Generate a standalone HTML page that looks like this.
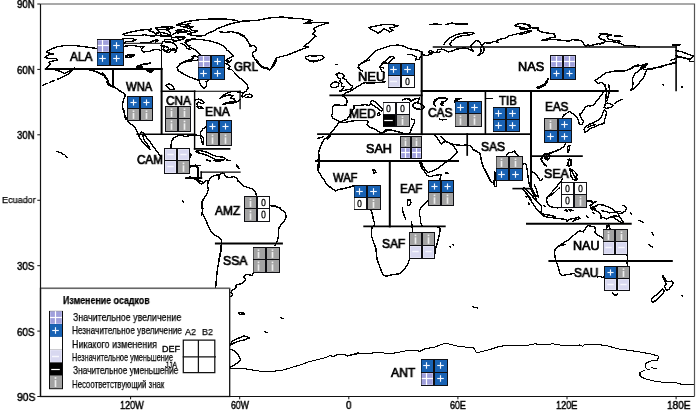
<!DOCTYPE html>
<html><head><meta charset="utf-8"><title>Изменение осадков</title>
<style>
html,body{margin:0;padding:0;background:#fff;}
body{width:700px;height:414px;position:relative;overflow:hidden;font-family:"Liberation Sans",sans-serif;color:#111;}
#map{position:absolute;left:0;top:0;width:700px;height:414px;}
#coast path{shape-rendering:crispEdges;fill:none;stroke:#000;stroke-width:1.4;stroke-linejoin:round;stroke-linecap:round;}
#frame path,#legbox path{fill:none;}
#rlines line{stroke:#000;stroke-width:2;stroke-linecap:square;}
.ax{position:absolute;white-space:nowrap;transform-origin:0 0;will-change:transform;-webkit-text-stroke:.5px #000;color:#000;}
.rl{position:absolute;white-space:nowrap;transform-origin:0 0;will-change:transform;-webkit-text-stroke:.72px #000;color:#000;}
.lt{position:absolute;white-space:nowrap;transform-origin:0 0;color:#000;will-change:transform;-webkit-text-stroke:.25px #000;}
</style></head>
<body>
<svg id="map" viewBox="0 0 700 414" width="700" height="414">
<g id="coast">
<path d="M97.2,48.6 L87.8,47.1 L76.2,45.7 L63.9,45.7 L57.4,46.7 L53.8,48.1 L47.2,51.0 L46.5,52.5 L50.1,53.2 L53.8,53.9 L49.4,54.6 L46.5,56.1 L45.1,57.5 L48.7,58.3 L55.9,58.7 L57.4,60.1 L52.3,61.2 L48.7,62.2 L50.9,64.1 L48.0,66.2 L46.5,68.0 L45.8,69.1 L50.9,69.1 L55.9,69.9 L61.7,72.0 L64.6,73.5 L69.0,71.3 L72.6,68.8"/>
<path d="M74.8,68.0 L71.2,71.3 L69.0,73.5 L63.9,76.4 L57.4,79.3"/>
<path d="M54.5,80.4 L50.1,82.2"/>
<path d="M47.2,83.3 L42.9,85.1"/>
<path d="M77.7,69.1 L87.8,69.4 L95.8,71.3 L100.9,73.5 L104.5,76.4 L107.4,80.0 L109.6,84.3 L112.5,86.5 L115.4,88.0"/>
<path d="M123.0,34.2 L130.1,32.1 L140.3,30.1 L151.4,29.1 L148.4,30.6 L153.5,32.1 L156.5,34.2 L154.5,36.2 L149.4,35.7 L144.3,34.7 L140.3,35.7 L135.2,35.2 L130.1,35.7 L125.1,35.2 L123.0,34.2"/>
<path d="M155.5,28.1 L162.6,27.1 L168.7,28.1 L165.7,29.6 L168.7,31.1 L170.7,33.2 L169.7,35.7 L165.7,36.2 L161.6,35.2 L159.6,32.1 L157.5,30.1 L155.5,28.1"/>
<path d="M123.0,38.2 L132.2,38.7 L136.2,39.8 L132.2,41.3 L126.1,41.8 L124.1,43.8"/>
<path d="M140.3,42.8 L150.4,42.3 L153.5,40.8 L156.5,39.8 L158.6,40.3 L155.5,42.3"/>
<path d="M124.1,46.3 L130.1,45.5 L135.2,45.8 L140.3,46.9 L144.3,46.3 L141.3,49.4 L143.3,51.9 L150.4,51.4 L152.5,49.9 L158.6,49.4 L160.6,50.4"/>
<path d="M126.1,55.5 L130.1,54.5 L134.2,55.0 L131.2,57.0 L126.1,57.5 L126.1,55.5 L130.1,56.0 L134.2,55.0"/>
<path d="M161.1,45.8 L165.7,46.3 L168.7,47.9 L167.7,50.4 L164.6,51.4 L168.7,52.4 L170.7,50.4 L172.8,48.4 L175.8,49.4 L176.8,51.4 L174.8,52.4"/>
<path d="M164.6,39.8 L170.7,39.2 L174.8,40.8 L172.8,42.3 L167.7,42.8 L164.6,41.3 L164.6,39.8"/>
<path d="M172.8,34.2 L176.8,32.1 L180.9,31.1 L185.9,32.1 L190.0,31.1"/>
<path d="M176.8,37.2 L180.9,36.2 L184.9,37.2 L182.9,39.2 L178.8,39.8 L176.8,37.2"/>
<path d="M176.8,25.0 L180.9,24.0 L185.9,24.5 L190.0,23.5"/>
<path d="M180.9,26.6 L184.9,27.1 L188.0,28.1"/>
<path d="M190.0,40.3 L187.0,41.3 L185.9,43.3 L188.0,45.3 L190.0,45.8"/>
<path d="M180.9,43.3 L184.9,45.3 L187.0,48.4 L190.0,49.4"/>
<path d="M125.2,56.2 L131.7,54.7 L134.6,55.7 L128.8,57.6 L125.2,56.2"/>
<path d="M136.8,67.0 L143.3,64.1 L150.6,63.0"/>
<path d="M147.0,70.7 L153.5,69.9 L151.3,72.1 L147.0,70.7"/>
<path d="M177.5,24.5 L186.2,21.6 L197.8,19.9 L210.9,19.0 L225.4,19.0 L237.0,20.4 L238.7,22.3 L234.1,23.0 L228.3,24.5 L222.5,26.7 L216.7,28.8 L213.8,31.0 L208.0,33.2 L205.1,35.4 L199.3,36.1 L192.0,35.4 L187.7,33.9 L193.5,32.5 L197.8,31.0 L192.0,30.3 L189.1,28.1 L193.5,26.7 L187.7,25.9 L181.9,26.7 L177.5,24.5"/>
<path d="M238.7,22.3 L242.8,20.9 L250.0,20.4"/>
<path d="M219.6,31.7 L225.4,32.5 L231.2,31.7 L238.4,33.2 L244.2,36.1 L247.1,40.4 L250.0,44.8"/>
<path d="M200.7,55.7 L199.3,53.5 L196.4,50.6 L192.0,48.4 L187.7,45.5 L184.8,42.6 L186.2,39.7 L193.5,39.0 L202.2,39.7 L210.9,41.2 L218.1,43.3 L223.9,46.2 L226.8,49.9 L231.2,53.5 L233.3,56.4 L229.7,57.8 L226.8,59.3 L229.0,62.2 L226.1,63.6"/>
<path d="M155.8,28.1 L161.6,27.1 L168.8,26.7 L174.6,27.4 L170.3,28.8 L164.5,29.6 L158.7,29.6 L155.8,28.1"/>
<path d="M176.1,30.3 L183.3,29.6 L187.7,31.0 L183.3,32.5 L177.5,32.9 L176.1,30.3"/>
<path d="M155.8,33.2 L161.6,32.5 L167.4,33.9 L171.7,36.1 L167.4,36.8 L161.6,36.1 L157.2,35.4 L155.8,33.2"/>
<path d="M171.7,37.5 L179.0,36.8 L183.3,38.3 L180.4,40.4 L174.6,41.2 L171.7,39.0 L171.7,37.5"/>
<path d="M163.0,41.2 L170.3,41.9 L174.6,44.1 L177.5,47.7 L174.6,50.6 L170.3,49.1 L167.4,50.6 L163.0,49.9 L164.5,47.0 L161.6,44.8 L163.0,41.2"/>
<path d="M178.3,65.8 L183.3,62.2 L189.1,60.0 L193.5,58.6 L192.0,56.4 L194.9,55.7 L198.6,57.8"/>
<path d="M240.0,21.3 L248.7,20.9 L257.4,20.4 L269.0,18.0 L282.0,17.0 L289.3,18.0 L300.9,18.7 L312.5,20.4 L306.7,22.3 L303.8,23.8 L309.6,23.0 L316.8,22.3 L328.4,23.0 L322.6,24.5 L316.8,26.7 L313.9,28.8 L315.4,31.7 L312.5,33.9 L316.1,36.1 L312.5,39.0 L309.6,41.9 L306.7,44.1 L303.8,46.2 L308.1,47.0 L302.3,49.1 L295.1,52.0 L287.8,54.9 L282.0,56.4 L276.2,57.8 L274.8,60.7 L273.3,64.3 L271.2,68.0 L269.7,69.4 L266.1,68.7 L261.7,67.2 L258.8,64.3 L255.9,60.7 L253.0,56.4 L252.3,52.8 L255.9,50.6 L256.7,47.7 L253.8,45.5 L250.1,46.2 L248.7,43.3 L247.2,39.7 L244.3,36.8 L240.0,34.6"/>
<path d="M305.2,57.1 L309.6,55.7 L315.4,56.1 L321.2,55.2 L324.1,57.1 L322.6,59.3 L318.3,60.7 L313.9,61.9 L309.6,60.7 L306.7,59.3 L305.2,57.1"/>
<path d="M335.7,64.2 L337.1,64.5"/>
<path d="M369.0,27.4 L376.2,25.9 L383.5,24.5 L390.7,24.5 L398.7,25.7 L393.6,27.4 L389.3,28.1 L392.9,30.3 L389.3,32.0 L386.4,29.6 L383.5,28.8 L380.6,31.7 L377.7,33.2 L374.8,31.0 L371.2,29.6 L369.0,27.4"/>
<path d="M430.6,24.5 L435.7,23.8 L440.0,24.5"/>
<path d="M358.1,68.0 L358.8,65.1 L363.2,62.2 L367.5,59.3 L371.2,55.7 L374.1,52.0 L377.7,49.9 L383.5,48.0 L390.7,45.5 L398.0,45.1 L403.8,46.2 L408.1,48.4 L412.5,49.4 L418.3,50.3 L421.9,52.0 L423.3,54.9 L427.0,55.7 L432.8,53.5 L428.4,52.0 L430.6,50.6 L435.7,52.8 L440.0,52.0"/>
<path d="M408.1,54.2 L412.5,54.9 L416.8,57.1 L415.4,60.0 L419.0,59.3 L421.2,56.4"/>
<path d="M388.6,62.9 L390.7,60.7 L394.3,57.8 L392.9,56.4 L389.3,57.1 L386.4,60.0 L383.5,62.2 L381.3,64.3 L380.6,67.2 L383.5,68.0"/>
<path d="M430.0,24.5 L435.8,24.2 L440.9,24.8"/>
<path d="M445.9,24.5 L451.7,23.0 L456.1,24.2 L460.4,23.8 L467.7,23.8"/>
<path d="M443.8,44.8 L445.9,41.2 L450.3,37.5 L456.1,34.6 L463.3,33.2 L472.0,32.5 L474.2,33.5 L469.1,34.9 L461.9,35.8 L456.1,37.5 L451.7,41.2 L449.6,44.1 L451.7,45.5"/>
<path d="M430.0,53.5 L432.9,52.0 L436.5,52.8 L438.0,49.9 L441.6,49.1 L444.5,49.9 L448.8,52.0 L453.2,50.6 L456.8,49.1 L459.0,48.8 L463.3,48.0 L467.7,48.4 L472.0,50.6 L473.5,51.3 L471.3,48.4 L470.6,45.5 L473.5,42.6 L476.4,40.7 L479.3,41.2 L480.7,44.1 L482.9,46.2 L484.3,49.1 L483.6,52.0 L480.7,54.2 L477.8,55.7 L480.0,53.5 L481.4,51.3 L480.7,48.4 L482.2,44.8 L485.1,42.6 L489.4,43.3 L493.8,41.2 L498.1,42.6 L496.7,40.4 L501.0,39.0 L505.4,38.3 L508.3,36.1 L514.1,34.6 L519.9,33.2 L525.7,31.7 L530.0,30.3"/>
<path d="M514.8,25.2 L519.9,23.3 L525.7,24.2 L530.0,25.2"/>
<path d="M515.5,25.9 L521.3,27.4 L527.1,28.6 L530.0,28.1"/>
<path d="M520.0,23.8 L524.3,23.3 L528.7,25.9 L533.0,28.1 L538.8,28.1 L537.4,30.3 L543.2,32.5 L549.0,33.2 L554.1,33.9 L555.5,36.8 L549.0,38.3 L541.7,40.4 L549.0,39.7 L556.2,39.7 L563.5,40.4 L569.3,41.2 L572.2,39.7 L578.0,40.1 L582.3,41.2 L583.8,44.1 L585.9,46.2 L588.1,44.1 L589.6,45.9 L593.9,44.8 L598.3,43.6 L603.3,43.0 L605.5,41.2 L601.2,39.0 L598.3,36.8 L600.4,34.6 L605.5,33.9 L611.3,34.6 L607.0,36.8 L608.4,39.0 L614.2,40.4 L620.0,41.2"/>
<path d="M520.0,28.8 L525.8,29.6 L531.6,31.0 L525.8,33.2 L520.0,34.6"/>
<path d="M614.2,36.1 L620.0,35.8"/>
<path d="M600.0,33.9 L605.8,34.6 L611.6,35.4"/>
<path d="M614.5,36.1 L622.5,36.8"/>
<path d="M600.0,39.0 L605.8,40.4 L602.9,43.3 L600.0,44.1"/>
<path d="M605.8,41.2 L614.5,41.9 L620.3,43.3 L624.6,45.5 L633.3,45.5 L639.1,47.0"/>
<path d="M672.5,44.8 L680.4,44.8"/>
<path d="M676.1,50.6 L682.6,52.0 L689.9,54.9 L693.5,56.4 L689.9,60.0 L684.1,57.8 L678.3,56.4 L676.1,55.7"/>
<path d="M689.9,61.4 L694.2,61.4"/>
<path d="M629.0,69.4 L633.3,66.5 L637.7,65.1 L643.5,65.8 L640.6,68.0 L644.9,67.2 L647.1,64.3 L643.5,65.8"/>
<path d="M643.5,69.4 L650.7,69.4 L658.0,67.2 L665.2,65.1 L672.5,63.6 L676.1,62.9"/>
<path d="M671.0,60.0 L676.1,58.6"/>
<path d="M90.0,70.1 L95.8,71.6 L100.1,73.8 L104.5,75.9 L107.4,78.8 L108.8,81.7 L107.4,84.6 L110.3,86.1 L113.2,85.4 L116.1,88.3 L119.0,90.4 L122.6,92.6 L125.5,94.8 L124.1,98.4 L122.6,103.5 L122.6,107.8 L124.1,112.2 L124.8,116.5 L126.2,119.4"/>
<path d="M102.3,73.0 L105.2,75.2"/>
<path d="M106.7,81.7 L108.8,83.9"/>
<path d="M136.4,66.5 L140.7,65.1 L145.1,64.1 L150.1,63.6"/>
<path d="M137.8,67.2 L142.2,67.0"/>
<path d="M147.2,70.9 L153.8,70.1 L150.1,72.3 L147.2,70.9"/>
<path d="M190.0,60.0 L184.2,61.4 L179.9,64.3 L177.0,67.2 L178.4,70.9 L182.8,73.8 L187.1,75.9 L190.0,77.4"/>
<path d="M166.1,85.4 L169.0,83.9 L172.6,85.4 L174.1,89.0 L171.2,89.7 L168.3,88.3 L166.1,85.4"/>
<path d="M180.0,63.6 L184.3,62.2 L188.7,61.4 L193.0,60.7 L198.4,60.0"/>
<path d="M180.0,71.6 L184.3,74.5 L188.7,76.7 L194.5,78.8 L198.8,80.3 L200.3,83.9 L201.7,86.8 L204.6,88.3 L206.8,85.4 L206.1,81.7 L208.3,80.3"/>
<path d="M224.2,62.9 L227.8,64.3 L230.0,66.5 L227.8,68.7 L231.4,69.4 L234.3,72.3 L237.2,75.9 L240.9,78.8 L244.5,81.7 L247.4,84.6 L248.1,88.3 L245.9,91.2 L243.8,92.6 L241.6,96.2 L243.0,97.0 L245.9,94.8 L249.6,94.1 L252.5,95.5 L251.7,97.7 L248.1,97.0 L245.2,97.7"/>
<path d="M243.8,92.6 L238.0,91.9 L232.9,91.2 L228.6,92.6 L224.2,94.8 L219.9,98.4 L224.2,96.2 L229.3,94.8 L232.9,95.5 L230.7,98.4 L234.3,99.1 L235.8,101.3 L230.7,102.0 L226.4,102.8 L222.8,104.2 L227.8,103.5 L233.6,102.8 L238.0,101.3 L240.1,99.9"/>
<path d="M195.2,99.9 L198.8,99.1 L202.5,100.6 L203.9,102.8 L201.7,103.5 L198.8,102.0 L196.7,103.5 L198.1,106.4 L201.7,107.1 L203.2,108.6 L198.8,108.6 L196.7,106.4"/>
<path d="M256.8,60.0 L259.0,63.6 L261.9,66.5 L267.0,68.0 L269.9,70.1 L272.8,67.2 L274.9,63.6 L276.4,60.0"/>
<path d="M224.9,60.0 L227.8,62.2 L230.7,61.4 L231.4,60.0"/>
<path d="M123.9,110.0 L124.6,114.3 L126.8,118.7 L129.0,123.0 L132.6,125.2 L135.5,128.1 L137.0,131.7 L138.4,134.6 L139.9,138.3 L142.0,141.2 L144.2,144.1 L146.4,146.2 L148.6,148.4 L150.0,149.9 L149.3,147.0 L147.1,144.1 L144.9,141.2 L143.5,138.3 L142.8,135.4 L143.5,133.2 L141.3,131.7 L140.3,133.9"/>
<path d="M143.5,133.2 L146.4,137.5 L150.0,141.9 L152.9,146.2 L155.8,149.9 L158.0,152.8 L160.9,156.4"/>
<path d="M194.9,134.6 L189.9,135.4 L185.5,136.8 L182.6,135.4 L178.3,135.8 L173.9,137.5 L171.7,141.2 L171.0,145.5 L171.0,148.4"/>
<path d="M189.9,153.5 L191.3,154.9 L190.1,157.1"/>
<path d="M189.9,165.8 L195.7,165.1 L200.0,165.8"/>
<path d="M206.4,126.7 L203.1,128.8 L200.7,131.7 L200.2,135.4 L201.2,139.0 L202.1,142.6 L203.1,144.8 L203.8,141.2 L203.6,137.5 L201.7,136.1 L198.8,135.4 L194.9,134.9"/>
<path d="M195.9,151.3 L199.5,150.6 L203.8,151.3 L208.2,152.8 L212.5,154.9 L216.9,156.4 L222.7,157.1 L225.6,158.6 L221.2,160.0 L215.4,159.3 L209.6,156.4 L203.8,154.2 L198.0,152.8 L195.9,151.3"/>
<path d="M206.7,160.0 L210.4,160.7"/>
<path d="M214.0,160.4 L216.2,161.0"/>
<path d="M218.3,160.7 L220.5,161.4"/>
<path d="M227.0,160.0 L229.2,160.7"/>
<path d="M236.4,164.3 L237.9,166.5 L239.3,168.7"/>
<path d="M336.1,74.5 L339.0,73.0 L342.6,73.8 L344.1,75.9 L342.6,78.1 L346.2,79.6 L347.7,82.5 L349.9,84.6 L352.8,86.1 L351.3,89.0 L347.7,89.7 L344.1,90.4 L339.7,91.2 L342.6,89.0 L344.1,86.8 L341.2,86.1 L341.9,83.2 L339.7,81.7 L340.4,78.8 L338.3,78.1 L337.5,75.9 L336.1,74.5"/>
<path d="M330.3,85.4 L332.5,82.5 L336.1,81.7 L339.0,83.2 L338.3,86.1 L335.4,87.5 L331.7,87.5 L330.3,85.4"/>
<path d="M335.8,64.3 L337.0,64.6"/>
<path d="M369.4,60.0 L365.8,61.4 L360.7,63.6 L358.6,66.5 L359.3,69.4 L362.2,70.9"/>
<path d="M379.6,67.2 L381.7,64.3 L385.4,62.9 L388.3,63.6"/>
<path d="M380.3,68.0 L381.7,70.9 L383.9,72.3"/>
<path d="M385.4,81.7 L379.6,82.5 L373.8,82.9 L368.0,83.2 L365.1,82.5 L360.7,84.6 L357.1,86.8 L353.5,89.0 L350.6,91.2 L346.2,92.6 L343.3,94.8 L341.2,95.5 L343.3,96.2"/>
<path d="M404.2,99.1 L408.6,98.4 L410.0,99.9"/>
<path d="M310.0,61.4 L315.8,60.7 L318.7,60.0"/>
<path d="M410.9,101.3 L414.5,99.1 L419.6,98.0 L418.1,102.0 L413.8,103.5 L412.3,106.4 L416.7,109.0 L421.7,109.3 L424.3,107.1 L421.7,104.6 L418.1,103.2"/>
<path d="M402.9,99.9 L407.2,98.4 L410.9,101.3"/>
<path d="M435.5,106.4 L433.3,103.5 L434.8,99.9 L439.1,97.7 L444.2,97.4 L447.1,98.8 L445.7,101.3 L442.0,102.0 L441.3,104.2 L443.5,103.5"/>
<path d="M454.3,102.0 L455.8,99.1 L460.9,98.4 L458.0,99.9 L455.8,102.0"/>
<path d="M487.0,98.8 L492.8,98.4"/>
<path d="M536.5,87.5 L540.9,86.1 L544.5,83.9 L546.7,81.0 L548.1,78.8 L547.4,81.7 L545.2,84.9 L541.6,87.2 L538.0,88.3 L536.5,87.5"/>
<path d="M594.5,80.4 L598.3,78.5 L605.8,72.9 L615.2,71.0 L624.6,71.0 L630.3,69.1 L635.0,66.3 L641.6,65.4 L647.2,63.5 L644.4,67.2 L639.7,70.1 L635.0,73.8 L632.2,78.5 L633.1,83.3 L632.2,88.0 L630.3,90.8 L635.0,88.0 L639.7,82.3 L643.5,77.6 L645.4,72.9 L647.2,69.1 L652.9,68.2 L660.4,67.2 L668.0,64.4 L674.6,62.5 L676.1,61.6"/>
<path d="M676.1,56.9 L683.0,57.8 L690.6,58.8 L693.4,55.9"/>
<path d="M690.6,61.6 L693.4,61.6"/>
<path d="M594.5,80.4 L598.3,83.3 L602.0,82.3 L604.9,85.1 L605.8,89.9"/>
<path d="M662.3,84.6 L663.4,85.0"/>
<path d="M681.5,86.8 L682.7,87.2"/>
<path d="M329.0,135.8 L328.3,136.8 L324.6,139.0 L322.5,141.9 L321.0,145.5 L319.6,149.1 L318.6,152.8 L318.8,156.4 L319.6,159.3 L318.8,161.0 L319.6,164.3 L318.8,168.0 L318.1,170.0"/>
<path d="M318.1,138.3 L320.3,137.5"/>
<path d="M321.7,137.2 L323.2,136.8"/>
<path d="M434.3,103.0 L435.8,100.1 L439.4,98.2 L443.8,97.9 L447.4,99.3 L445.2,101.5 L441.6,102.2 L440.9,104.4 L443.0,105.9"/>
<path d="M439.4,118.9 L442.3,119.9 L445.9,119.3"/>
<path d="M411.2,118.9 L414.1,119.9 L414.8,119.6 L414.1,123.3 L412.6,126.2 L411.2,129.1 L410.4,132.0 L409.0,134.1"/>
<path d="M380.0,133.4 L384.3,132.0 L388.7,129.8 L393.0,130.5 L398.8,132.0 L403.2,133.4 L407.5,134.1 L409.0,133.8"/>
<path d="M506.4,155.4 L508.6,152.5 L512.2,152.5 L514.3,150.8 L515.8,153.3 L518.0,155.4"/>
<path d="M565.5,143.8 L564.1,146.3 L561.2,148.5 L557.5,150.7 L553.2,152.1 L550.3,153.6 L547.4,154.3 L543.8,154.3 L542.3,156.4 L541.6,160.1 L543.0,163.0 L544.5,165.0"/>
<path d="M543.8,154.3 L546.7,153.6 L548.8,155.0 L549.6,157.9 L547.4,160.1 L545.2,158.6 L543.8,154.3"/>
<path d="M568.0,146.3 L569.9,145.6 L569.4,149.2 L568.0,152.1 L567.4,149.2 L568.0,146.3"/>
<path d="M568.0,165.0 L568.4,160.1 L571.3,159.8 L571.0,165.0"/>
<path d="M189.9,167.3 L193.8,165.9 L198.1,167.3 L198.1,172.4 L198.1,176.7 L196.7,178.2 L198.8,180.4 L201.7,181.8 L203.9,182.5 L206.1,180.4 L208.3,181.8 L207.5,185.4 L208.3,189.8 L206.8,194.1 L203.9,198.5 L202.0,202.1 L201.7,205.7 L202.5,210.1 L201.7,215.0"/>
<path d="M185.8,178.2 L190.1,176.7 L193.8,178.2 L196.7,180.4 L198.8,182.5 L201.7,184.0 L203.9,182.5"/>
<path d="M208.3,181.8 L209.7,178.9 L211.9,176.7 L215.5,175.3 L218.4,174.6 L218.8,178.9 L219.1,175.3 L222.0,173.1 L224.2,173.6 L225.7,176.7 L229.3,177.5 L233.6,176.7 L237.2,178.2 L238.0,181.1 L240.9,183.3 L243.8,186.2 L248.1,187.6 L252.5,189.1 L255.4,192.0 L256.8,196.3"/>
<path d="M270.1,205.7 L274.2,206.4 L280.0,207.9"/>
<path d="M206.8,160.1 L210.4,161.1"/>
<path d="M214.1,160.5 L216.2,160.1 L220.6,160.8 L223.5,160.1 L218.0,161.5"/>
<path d="M227.1,160.1 L230.0,160.5"/>
<path d="M236.5,165.1 L238.0,168.0"/>
<path d="M182.6,200.7 L183.5,202.1"/>
<path d="M202.9,200.0 L202.2,204.3 L202.9,208.7 L202.2,213.0 L204.3,216.7 L206.5,221.7 L208.7,226.8 L210.9,231.9 L214.5,234.8 L218.8,237.0 L221.7,239.9 L221.4,243.5 L221.0,247.8 L220.3,252.2 L219.6,256.5 L218.8,260.0"/>
<path d="M270.3,205.8 L273.9,205.5 L278.3,207.2 L281.9,210.1 L285.5,213.0 L286.2,216.7 L284.1,221.0 L281.2,224.6 L279.0,227.5 L278.3,231.9 L278.3,236.2 L277.5,240.6 L276.1,243.5 L274.6,245.7"/>
<path d="M221.3,250.0 L219.3,259.7 L217.4,269.3 L216.4,279.0 L215.7,287.9"/>
<path d="M253.1,273.4 L251.9,275.4 L245.9,274.2 L243.5,276.6 L245.9,280.2 L241.1,283.8 L236.2,285.0 L235.7,288.6 L232.6,289.9 L230.9,292.3 L232.6,294.7 L230.9,296.4"/>
<path d="M238.6,312.8 L243.5,312.3 L244.7,314.0 L239.9,314.3 L238.6,312.8"/>
<path d="M280.9,317.6 L283.3,318.8"/>
<path d="M264.7,331.6 L267.1,332.6"/>
<path d="M230.1,345.4 L232.2,341.3 L238.3,338.3 L244.3,335.8 L249.4,337.9 L244.3,339.9 L238.3,341.3 L233.2,343.3 L230.1,345.4"/>
<path d="M230.1,349.4 L234.2,350.4 L237.2,353.5 L239.3,356.5 L240.3,359.6 L238.3,362.6 L234.2,365.0 L230.1,367.1"/>
<path d="M230.1,368.3 L242.3,368.3 L250.4,369.7 L260.6,371.3 L270.7,371.3 L280.9,370.7 L291.0,367.7 L301.2,364.6 L309.3,361.6 L317.4,359.6 L326.5,357.5 L329.6,355.5 L333.6,356.5 L337.7,354.5 L343.8,354.1 L347.8,356.1 L353.9,354.5 L360.0,353.5" style="stroke-width:1.05"/>
<path d="M265.0,332.0 L266.7,332.4"/>
<path d="M350.0,355.0 L357.5,353.0 L370.0,353.2 L380.0,352.5 L390.0,353.8 L400.0,352.0 L410.0,350.0 L420.0,351.2 L425.0,348.8 L435.0,347.0 L440.0,345.0 L445.0,343.2 L450.0,344.2 L457.5,346.2 L465.0,347.0 L473.8,348.0 L476.2,352.5 L480.0,352.0 L490.0,349.5 L497.5,347.0 L505.0,345.5 L515.0,345.5 L525.0,345.8" style="stroke-width:1.05"/>
<path d="M525.0,345.8 L535.0,343.8 L545.0,345.0 L552.5,343.8 L565.0,345.8 L580.0,345.0 L582.5,346.2 L585.0,344.5 L597.5,344.5 L607.5,345.8 L617.5,348.8 L630.0,350.5 L640.0,352.0 L650.0,353.8 L658.8,356.2 L657.5,360.0 L650.0,361.2 L645.0,363.8 L646.2,368.8 L650.0,370.0" style="stroke-width:1.05"/>
<path d="M651.2,367.5 L656.2,368.8" style="stroke-width:1.05"/>
<path d="M645.0,370.0 L640.0,372.5 L640.0,376.2 L645.0,378.8 L655.0,381.2 L665.0,382.5 L675.0,382.5 L682.5,384.5 L693.8,384.5" style="stroke-width:1.05"/>
<path d="M319.6,155.0 L318.1,159.3 L318.8,163.0 L317.4,166.6 L317.4,170.2 L319.6,173.1 L321.7,176.7 L323.9,179.6 L326.1,183.3 L329.0,186.2 L332.6,189.1 L335.5,190.9 L339.1,189.5 L343.5,188.6 L349.3,187.2 L353.9,185.7"/>
<path d="M372.5,169.5 L374.6,170.2 L376.1,172.4 L373.9,173.1 L372.5,169.5"/>
<path d="M368.8,200.0 L370.0,205.8 L371.0,210.4 L372.5,214.5 L373.2,218.8 L374.6,223.2 L373.9,226.4"/>
<path d="M407.2,200.0 L410.1,200.0 L410.9,202.9 L409.4,205.8 L407.2,205.1 L407.2,200.0"/>
<path d="M402.2,208.0 L402.9,211.6 L404.3,215.9 L405.8,219.6"/>
<path d="M411.6,221.7 L412.0,226.1 L412.6,231.2"/>
<path d="M429.0,200.0 L425.4,202.9 L421.7,206.5 L419.6,210.1 L419.3,214.5 L420.7,218.1 L420.3,221.7 L421.7,224.6 L422.5,226.4"/>
<path d="M494.3,180.2 L495.8,179.5 L496.8,183.1 L496.5,186.4 L494.8,186.7 L493.9,183.8 L494.3,180.2"/>
<path d="M587.0,201.3 L588.8,200.6 L591.0,201.3 L593.9,202.8 L591.7,204.9 L590.3,207.1 L592.5,210.0 L595.4,209.3 L593.9,207.1 L596.8,205.7"/>
<path d="M601.2,210.7 L605.5,211.4 L609.9,212.9 L614.2,212.2 L620.0,211.4"/>
<path d="M609.9,217.2 L614.2,215.8 L618.6,216.5"/>
<path d="M588.3,201.6 L591.2,200.9 L592.6,203.8 L589.7,205.2 L591.2,207.4 L595.5,205.9 L599.1,204.5 L603.5,205.2 L607.8,206.7 L612.2,208.8 L615.8,211.7 L618.0,213.9 L621.6,213.2 L624.5,211.7 L626.7,208.8 L624.5,205.9 L623.0,205.2"/>
<path d="M591.2,207.4 L594.8,210.3 L599.1,212.5 L601.3,215.4 L600.6,218.3 L603.5,217.5 L606.4,219.0 L609.3,217.5 L612.2,216.8 L615.8,219.0 L618.7,221.2 L621.6,222.6 L623.8,223.0 L621.6,219.7 L619.4,216.8 L618.0,213.9"/>
<path d="M586.8,216.1 L588.3,217.5"/>
<path d="M592.6,212.5 L594.1,213.9"/>
<path d="M594.1,202.3 L596.2,201.6"/>
<path d="M630.3,212.5 L631.7,214.6"/>
<path d="M639.0,220.4 L643.3,222.6"/>
<path d="M652.0,232.8 L653.5,235.7"/>
<path d="M648.4,244.3 L652.8,247.2"/>
<path d="M565.1,210.3 L567.2,211.7"/>
<path d="M568.7,209.6 L570.9,211.0"/>
<path d="M560.0,245.1 L564.3,242.2 L568.7,240.0 L572.3,236.4 L575.9,233.5 L579.6,230.6 L583.2,232.0 L585.4,228.4 L588.3,225.5 L591.2,226.2 L594.8,227.0 L595.5,229.9 L594.8,232.8 L597.7,234.9 L601.3,237.1 L603.5,238.6"/>
<path d="M606.7,229.1 L607.1,225.5 L608.6,224.8 L610.0,229.1"/>
<path d="M565.4,244.5 L561.0,245.2 L557.4,246.7 L555.2,248.8 L554.5,253.2 L555.2,257.5 L555.9,260.9 L557.4,264.8 L558.8,269.1 L559.6,273.5 L561.7,275.7 L565.4,274.9 L569.7,274.2 L574.1,273.5"/>
<path d="M597.2,277.1 L600.1,276.4 L602.3,277.8 L603.8,277.1"/>
<path d="M627.0,255.4 L627.7,258.3 L627.0,260.9 L627.4,265.5"/>
<path d="M612.5,293.0 L613.9,294.9 L616.1,295.3 L617.5,293.4"/>
<path d="M662.5,275.3 L664.6,278.2 L666.1,281.1 L669.0,281.8 L671.9,281.1 L673.3,283.3 L671.2,286.2 L669.0,289.1 L666.8,290.5 L665.4,289.1 L664.6,286.2 L666.1,284.0 L665.4,281.8 L663.2,278.2 L662.5,275.3"/>
<path d="M662.5,289.1 L664.6,290.5 L663.2,293.4 L660.3,296.3 L657.4,299.2 L654.5,301.4 L653.0,302.8 L651.6,300.7 L651.6,298.5 L654.5,296.3 L658.1,293.4 L661.0,290.5 L662.5,289.1"/>
<path d="M681.6,295.4 L682.8,295.9"/>
<path d="M372.2,227.2 L371.4,231.5 L371.7,236.6 L373.6,242.4 L375.8,248.2 L376.5,254.0 L377.2,259.8 L379.4,265.6 L381.6,271.4 L383.0,275.0 L385.9,276.4 L390.3,275.0 L394.6,274.3 L399.0,274.0 L402.6,271.4 L405.5,267.8 L408.0,263.4 L409.4,259.1"/>
<path d="M438.1,227.2 L440.3,228.6 L439.6,233.7 L438.1,239.5 L436.7,245.3 L435.2,248.9 L434.9,253.3"/>
<path d="M449.4,246.7 L450.3,247.0"/>
<path d="M452.9,244.4 L453.8,244.9"/>
<path d="M57.0,151.3 L58.5,151.8"/>
<path d="M60.0,152.5 L61.5,153.0"/>
<path d="M62.5,154.0 L64.0,154.5"/>
<path d="M65.5,155.5 L67.5,157.5 L66.0,157.0 L65.5,155.5"/>
<path d="M473.0,307.0 L478.0,308.0"/>
<path d="M343.1,95.4 L344.3,97.2 L346.7,99.1 L347.3,102.1 L346.1,105.1 L341.9,105.4 L338.3,105.1 L334.7,105.1 L332.8,106.3 L332.2,109.3 L332.8,112.3 L331.6,115.3 L332.8,118.4 L335.9,119.6 L338.3,120.8 L339.5,122.0 L343.1,120.8 L347.3,119.0 L347.9,117.8 L349.1,115.9 L350.9,113.5 L352.2,111.1 L354.0,108.1 L354.0,105.7 L358.2,105.4 L362.4,105.1 L366.0,104.5 L368.4,105.7 L370.3,103.9 L370.9,101.5 L372.7,100.6 L375.7,102.1 L378.1,104.5 L380.5,106.9 L382.9,109.3 L381.7,111.1 L379.3,109.9 L377.5,108.1 L374.5,106.3 L372.1,104.5 L370.6,102.7"/>
<path d="M377.5,113.5 L379.3,112.3 L379.9,114.7 L378.1,115.9 L377.5,113.5"/>
<path d="M339.5,122.0 L337.7,124.4 L335.9,126.8 L333.4,129.8 L331.0,132.8 L329.8,136.5 L327.4,139.5"/>
<path d="M339.5,122.0 L344.3,122.6 L349.1,121.6 L354.0,120.8 L361.2,120.2 L367.2,120.2 L368.4,122.0 L367.2,124.4 L369.1,126.8 L373.3,128.6 L376.9,130.4 L379.3,132.2 L382.3,133.4 L384.1,131.6 L385.3,129.8 L387.8,129.2 L392.6,130.4 L395.0,131.0"/>
<path d="M604.1,91.0 L602.2,94.1 L599.8,97.1 L597.4,100.1 L595.0,103.1 L592.6,105.5 L590.2,106.1 L587.8,105.5 L585.3,107.3 L583.5,110.3 L581.7,112.8 L579.9,114.0 L580.5,117.0 L582.3,119.4 L583.5,121.8 L582.3,124.2 L579.3,124.8 L578.7,121.8 L578.1,119.4 L576.3,117.0 L574.5,114.6 L572.1,113.4 L570.3,111.6 L567.8,112.2 L566.0,114.0 L563.6,115.2 L562.4,117.0"/>
<path d="M605.3,85.0 L605.9,88.6 L606.5,92.2 L605.9,97.1 L605.6,101.9 L607.1,100.7 L608.3,95.9 L609.5,90.4 L608.9,85.0"/>
<path d="M605.3,104.3 L607.7,103.1 L610.7,104.1 L613.1,105.5 L611.3,107.3 L608.3,107.9 L605.9,108.5 L604.1,107.3 L605.3,104.3"/>
<path d="M614.9,103.1 L617.9,101.3 L622.2,99.2"/>
<path d="M604.7,109.7 L606.5,112.2 L605.9,115.8 L604.7,119.4 L604.1,123.0 L601.6,124.2 L598.6,124.8 L595.6,126.6 L592.0,127.8 L589.0,129.1 L587.2,131.5 L584.7,132.1 L584.1,129.1 L585.9,126.6 L589.6,124.2 L593.2,123.0 L597.4,120.6 L600.4,118.2 L602.2,115.2 L603.2,112.2 L604.7,109.7"/>
<path d="M587.8,127.2 L591.4,125.4 L595.0,124.8"/>
<path d="M522.2,164.5 L525.3,163.3 L526.5,165.7 L527.1,169.3 L527.7,174.1 L528.3,179.0 L528.9,182.6 L530.1,186.2 L530.7,188.6 L531.9,191.6 L533.7,194.7 L535.5,197.7 L536.7,200.0"/>
<path d="M522.2,188.6 L524.7,191.0 L527.1,194.1 L529.5,197.1 L531.3,200.0"/>
<path d="M557.2,150.0 L553.6,151.8 L550.0,153.0 L546.4,154.2 L543.4,154.8 L541.6,156.6 L540.9,159.7 L542.2,162.1 L544.6,164.5 L546.6,166.3"/>
<path d="M547.0,154.8 L549.4,154.2 L550.2,156.6 L548.8,159.1 L547.0,158.4 L546.6,156.0 L547.0,154.8"/>
<path d="M531.3,171.7 L533.7,172.3 L536.1,174.7 L538.5,177.8 L540.3,180.8 L542.2,179.0"/>
<path d="M567.5,159.7 L569.3,159.1 L571.5,160.3 L571.1,163.3 L569.9,165.7 L568.7,166.3 L568.1,163.3 L566.9,165.7"/>
<path d="M569.9,168.7 L572.9,169.9 L575.3,172.3 L577.2,174.7 L575.9,177.2 L577.8,179.6 L575.3,180.2 L572.9,179.0 L571.1,176.6 L570.5,173.5 L569.9,168.7 L573.5,174.1 L575.3,178.4"/>
<path d="M562.7,179.0 L560.3,182.0 L557.8,185.0 L555.4,188.6 L552.4,191.6 L550.0,194.1 L547.6,196.5 L546.6,199.5"/>
<path d="M534.3,185.0 L536.1,188.6 L537.3,192.8 L538.5,197.1 L536.1,195.9 L533.7,192.2 L531.9,188.6 L530.7,185.0"/>
<path d="M522.8,188.6 L525.3,192.2 L527.7,195.9 L530.1,199.5 L532.5,203.1 L534.9,206.7 L537.9,210.3 L540.9,212.8 L541.6,209.7 L541.6,206.1 L539.1,203.7 L536.1,200.7 L533.1,197.1 L530.1,193.4 L527.1,190.4 L524.1,188.0 L522.8,188.6"/>
<path d="M540.9,213.4 L545.2,214.6 L550.0,215.2 L554.8,216.4 L556.0,218.2 L551.2,217.6 L546.4,217.0 L542.2,215.2 L540.9,213.4"/>
<path d="M556.0,218.2 L560.9,218.8 L565.7,219.4 L568.1,220.6 L566.3,221.2"/>
<path d="M568.1,220.0 L571.7,218.8 L575.3,218.2 L579.0,217.0 L580.2,218.2 L577.8,219.4 L574.7,220.0 L572.9,221.8"/>
<path d="M546.4,198.9 L547.0,201.9 L548.2,204.9 L550.6,206.7 L553.6,207.3 L557.2,207.9 L560.3,207.3"/>
<path d="M546.4,198.9 L547.6,196.5 L551.2,195.3 L554.2,192.8 L557.2,189.8 L559.7,187.4"/>
<path d="M565.7,209.7 L567.5,210.9"/>
<path d="M569.9,209.7 L572.9,210.6"/>
<path d="M525.9,196.5 L526.5,197.7"/>
<path d="M528.3,202.5 L529.2,204.3"/>
<path d="M543.4,205.5 L545.2,206.7"/>
<path d="M435.1,135.8 L438.6,139.7 L441.1,144.0 L444.9,141.4 L449.7,143.1 L453.1,145.7 L455.7,149.1 L457.4,151.7 L454.9,155.1 L449.7,159.4 L443.7,163.7 L438.6,168.0 L432.6,171.1 L428.3,172.3 L425.7,170.6 L423.1,166.3 L420.6,161.1"/>
<path d="M419.7,162.0 L421.4,167.1 L424.9,172.3 L427.4,175.7 L430.0,176.6 L436.0,175.2 L441.1,174.5 L440.3,178.3 L439.4,180.3"/>
<path d="M445.4,172.8 L448.0,173.1"/>
<path d="M441.1,136.3 L443.7,139.7 L448.0,142.3 L451.4,144.0 L456.6,144.9 L461.7,145.4 L466.5,144.9 L470.3,145.7 L472.9,149.1 L476.3,151.7 L479.7,152.6 L480.6,156.0 L481.4,161.1 L483.1,166.3 L485.7,171.4 L488.3,176.6 L490.9,181.7 L493.4,182.6 L495.1,178.3 L494.8,171.4"/>
<path d="M473.7,150.0 L476.3,150.9"/>
</g>
<g id="rlines"><line x1="45.8" y1="68.9" x2="161.6" y2="68.9"/><line x1="124" y1="43.3" x2="161.6" y2="43.3" style="stroke-width:1"/><line x1="161.5" y1="43.3" x2="161.5" y2="68.9" style="stroke-width:1"/><line x1="161.6" y1="68.9" x2="161.6" y2="133.9"/><line x1="113" y1="68.9" x2="113" y2="86.8"/><line x1="161.6" y1="91.2" x2="194.7" y2="91.2" style="stroke-width:1.6"/><line x1="194.7" y1="91.2" x2="240.1" y2="91.2" style="stroke-width:1.1"/><line x1="240.1" y1="91.2" x2="240.1" y2="108.5" style="stroke-width:1.3"/><line x1="194.6" y1="91.2" x2="194.6" y2="148.9" style="stroke-width:1.4"/><line x1="137" y1="134.2" x2="194.6" y2="134.2" style="stroke-width:1.4"/><line x1="194.6" y1="148.9" x2="229.6" y2="148.9" style="stroke-width:1.6"/><line x1="186.2" y1="178" x2="201.2" y2="178" style="stroke-width:2"/><line x1="201.2" y1="172.1" x2="201.2" y2="178" style="stroke-width:1.5"/><line x1="201.2" y1="172.1" x2="240" y2="172.1" style="stroke-width:1.3"/><line x1="215.9" y1="243.5" x2="281.9" y2="243.5"/><line x1="330.3" y1="95.4" x2="421.7" y2="95.4" style="stroke-width:1.8"/><line x1="421.7" y1="52" x2="421.7" y2="134.2"/><line x1="421.7" y1="91" x2="617.7" y2="91"/><line x1="433.6" y1="47" x2="676.1" y2="47" style="stroke-width:1.7"/><line x1="676.1" y1="47" x2="676.1" y2="90.4" style="stroke-width:1.6"/><line x1="485.4" y1="91" x2="485.4" y2="134" style="stroke-width:1.6"/><line x1="531" y1="91" x2="531" y2="188.4"/><line x1="318" y1="134.2" x2="531" y2="134.2" style="stroke-width:1.8"/><line x1="316" y1="161" x2="458" y2="161"/><line x1="389.8" y1="161" x2="389.8" y2="226.4"/><line x1="467.2" y1="134" x2="467.2" y2="155" style="stroke-width:1.7"/><line x1="364.2" y1="226.3" x2="444.8" y2="226.3" style="stroke-width:1.8"/><line x1="531" y1="156.1" x2="582" y2="156.1" style="stroke-width:1.6"/><line x1="513.2" y1="188.6" x2="531" y2="188.6" style="stroke-width:1.6"/><line x1="527" y1="223.8" x2="630.7" y2="223.8"/><line x1="549.4" y1="261" x2="671.8" y2="261"/></g>
<g id="legbox"><rect x="40.5" y="288.4" width="189.2" height="108.1" style="fill:#fff;stroke:#111;stroke-width:1.3"/><path d="M40.5,288.4 H229.7" style="stroke:#666;stroke-width:1.1"/><rect x="49" y="310.9" width="14" height="78.30" fill="#0c0c0c"/><rect x="50.00" y="311.20" width="12.00" height="12.85" fill="#c2c2ec"/><rect x="50.70" y="311.90" width="10.60" height="11.45" fill="#a0a0dc"/><path d="M50.00,317.50 L62.00,317.50" style="stroke:#fff;stroke-width:1.2;stroke-linecap:butt"/><path d="M55.50,311.20 L55.50,324.05" style="stroke:#fff;stroke-width:1.2;stroke-linecap:butt"/><rect x="50.00" y="324.05" width="12.00" height="12.85" fill="#1862b4"/><path d="M52.20,330.50 L58.80,330.50" style="stroke:#f4f8ff;stroke-width:1.15;stroke-linecap:butt"/><path d="M55.50,327.20 L55.50,333.80" style="stroke:#f4f8ff;stroke-width:1.15;stroke-linecap:butt"/><rect x="50.00" y="336.90" width="12.00" height="12.85" fill="#fff"/><rect x="50.00" y="349.75" width="12.00" height="12.85" fill="#e6e6f7"/><rect x="50.80" y="350.55" width="10.40" height="11.25" fill="#d8d8f0"/><path d="M52.02,356.50 L58.98,356.50" style="stroke:#f6f6fd;stroke-width:1.5;stroke-linecap:butt"/><rect x="50.00" y="362.60" width="12.00" height="12.85" fill="#000"/><path d="M51.20,369.50 L59.80,369.50" style="stroke:#fff;stroke-width:1.2;stroke-linecap:butt"/><rect x="50.00" y="375.45" width="12.00" height="12.85" fill="#a2a2a2"/><path d="M55.50,380.08 L55.50,387.01" style="stroke:#ececec;stroke-width:1.7;stroke-linecap:butt"/><path d="M55.50,377.12 L55.50,378.92" style="stroke:#ececec;stroke-width:1.7;stroke-linecap:butt"/><path d="M183.3,340.2 H214.8 V372.5 H183.3 Z M198.4,340.2 V372.5 M182.5,356.8 H216" style="stroke:#111;stroke-width:1.25"/></g>
<g id="boxes">
<g><rect x="97" y="39" width="27" height="27" fill="#101014"/><rect x="97.00" y="40.00" width="12.00" height="12.00" fill="#c2c2ec"/><rect x="97.70" y="40.70" width="10.60" height="10.60" fill="#a0a0dc"/><path d="M97.00,45.50 L109.00,45.50" style="stroke:#fff;stroke-width:1.2;stroke-linecap:butt"/><path d="M102.50,40.00 L102.50,52.00" style="stroke:#fff;stroke-width:1.2;stroke-linecap:butt"/><rect x="111.00" y="40.00" width="12.00" height="12.00" fill="#1862b4"/><path d="M113.20,45.50 L119.80,45.50" style="stroke:#f4f8ff;stroke-width:1.15;stroke-linecap:butt"/><path d="M116.50,42.20 L116.50,48.80" style="stroke:#f4f8ff;stroke-width:1.15;stroke-linecap:butt"/><rect x="97.00" y="53.00" width="12.00" height="12.00" fill="#1862b4"/><path d="M99.20,58.50 L105.80,58.50" style="stroke:#f4f8ff;stroke-width:1.15;stroke-linecap:butt"/><path d="M102.50,55.20 L102.50,61.80" style="stroke:#f4f8ff;stroke-width:1.15;stroke-linecap:butt"/><rect x="111.00" y="53.00" width="12.00" height="12.00" fill="#1862b4"/><path d="M113.20,58.50 L119.80,58.50" style="stroke:#f4f8ff;stroke-width:1.15;stroke-linecap:butt"/><path d="M116.50,55.20 L116.50,61.80" style="stroke:#f4f8ff;stroke-width:1.15;stroke-linecap:butt"/><rect x="97" y="39" width="1" height="27" fill="#000" fill-opacity=".5"/></g>
<g><rect x="198" y="55" width="27" height="25" fill="#101014"/><rect x="198.00" y="56.00" width="12.00" height="11.00" fill="#c2c2ec"/><rect x="198.70" y="56.70" width="10.60" height="9.60" fill="#a0a0dc"/><path d="M198.00,61.50 L210.00,61.50" style="stroke:#fff;stroke-width:1.2;stroke-linecap:butt"/><path d="M203.50,56.00 L203.50,67.00" style="stroke:#fff;stroke-width:1.2;stroke-linecap:butt"/><rect x="212.00" y="56.00" width="12.00" height="11.00" fill="#1862b4"/><path d="M214.20,61.50 L220.80,61.50" style="stroke:#f4f8ff;stroke-width:1.15;stroke-linecap:butt"/><path d="M217.50,58.20 L217.50,64.80" style="stroke:#f4f8ff;stroke-width:1.15;stroke-linecap:butt"/><rect x="198.00" y="68.00" width="12.00" height="11.00" fill="#1862b4"/><path d="M200.20,73.50 L206.80,73.50" style="stroke:#f4f8ff;stroke-width:1.15;stroke-linecap:butt"/><path d="M203.50,70.20 L203.50,76.80" style="stroke:#f4f8ff;stroke-width:1.15;stroke-linecap:butt"/><rect x="212.00" y="68.00" width="12.00" height="11.00" fill="#1862b4"/><path d="M214.20,73.50 L220.80,73.50" style="stroke:#f4f8ff;stroke-width:1.15;stroke-linecap:butt"/><path d="M217.50,70.20 L217.50,76.80" style="stroke:#f4f8ff;stroke-width:1.15;stroke-linecap:butt"/><rect x="198" y="55" width="1" height="25" fill="#000" fill-opacity=".5"/></g>
<g><rect x="127" y="96" width="26" height="25" fill="#101014"/><rect x="128.00" y="97.00" width="11.00" height="11.00" fill="#1862b4"/><path d="M130.42,102.50 L136.58,102.50" style="stroke:#f4f8ff;stroke-width:1.15;stroke-linecap:butt"/><path d="M133.50,99.42 L133.50,105.58" style="stroke:#f4f8ff;stroke-width:1.15;stroke-linecap:butt"/><rect x="141.00" y="97.00" width="11.00" height="11.00" fill="#1862b4"/><path d="M143.42,102.50 L149.58,102.50" style="stroke:#f4f8ff;stroke-width:1.15;stroke-linecap:butt"/><path d="M146.50,99.42 L146.50,105.58" style="stroke:#f4f8ff;stroke-width:1.15;stroke-linecap:butt"/><rect x="128.00" y="109.00" width="11.00" height="11.00" fill="#a2a2a2"/><path d="M133.50,112.96 L133.50,118.90" style="stroke:#ececec;stroke-width:1.7;stroke-linecap:butt"/><path d="M133.50,110.43 L133.50,111.97" style="stroke:#ececec;stroke-width:1.7;stroke-linecap:butt"/><rect x="141.00" y="109.00" width="11.00" height="11.00" fill="#a2a2a2"/><path d="M146.50,112.96 L146.50,118.90" style="stroke:#ececec;stroke-width:1.7;stroke-linecap:butt"/><path d="M146.50,110.43 L146.50,111.97" style="stroke:#ececec;stroke-width:1.7;stroke-linecap:butt"/></g>
<g><rect x="165" y="106" width="26" height="26" fill="#101014"/><rect x="166.00" y="107.00" width="11.00" height="11.00" fill="#a2a2a2"/><path d="M171.50,110.96 L171.50,116.90" style="stroke:#ececec;stroke-width:1.7;stroke-linecap:butt"/><path d="M171.50,108.43 L171.50,109.97" style="stroke:#ececec;stroke-width:1.7;stroke-linecap:butt"/><rect x="179.00" y="107.00" width="11.00" height="11.00" fill="#a2a2a2"/><path d="M184.50,110.96 L184.50,116.90" style="stroke:#ececec;stroke-width:1.7;stroke-linecap:butt"/><path d="M184.50,108.43 L184.50,109.97" style="stroke:#ececec;stroke-width:1.7;stroke-linecap:butt"/><rect x="166.00" y="119.00" width="11.00" height="12.00" fill="#a2a2a2"/><path d="M171.50,123.32 L171.50,129.80" style="stroke:#ececec;stroke-width:1.7;stroke-linecap:butt"/><path d="M171.50,120.56 L171.50,122.24" style="stroke:#ececec;stroke-width:1.7;stroke-linecap:butt"/><rect x="179.00" y="119.00" width="11.00" height="12.00" fill="#a2a2a2"/><path d="M184.50,123.32 L184.50,129.80" style="stroke:#ececec;stroke-width:1.7;stroke-linecap:butt"/><path d="M184.50,120.56 L184.50,122.24" style="stroke:#ececec;stroke-width:1.7;stroke-linecap:butt"/></g>
<g><rect x="206" y="120" width="26" height="26" fill="#101014"/><rect x="207.00" y="121.00" width="11.00" height="11.00" fill="#1862b4"/><path d="M209.42,126.50 L215.58,126.50" style="stroke:#f4f8ff;stroke-width:1.15;stroke-linecap:butt"/><path d="M212.50,123.42 L212.50,129.58" style="stroke:#f4f8ff;stroke-width:1.15;stroke-linecap:butt"/><rect x="220.00" y="121.00" width="11.00" height="11.00" fill="#1862b4"/><path d="M222.42,126.50 L228.58,126.50" style="stroke:#f4f8ff;stroke-width:1.15;stroke-linecap:butt"/><path d="M225.50,123.42 L225.50,129.58" style="stroke:#f4f8ff;stroke-width:1.15;stroke-linecap:butt"/><rect x="207.00" y="133.00" width="11.00" height="12.00" fill="#a2a2a2"/><path d="M212.50,137.32 L212.50,143.80" style="stroke:#ececec;stroke-width:1.7;stroke-linecap:butt"/><path d="M212.50,134.56 L212.50,136.24" style="stroke:#ececec;stroke-width:1.7;stroke-linecap:butt"/><rect x="220.00" y="133.00" width="11.00" height="12.00" fill="#a2a2a2"/><path d="M225.50,137.32 L225.50,143.80" style="stroke:#ececec;stroke-width:1.7;stroke-linecap:butt"/><path d="M225.50,134.56 L225.50,136.24" style="stroke:#ececec;stroke-width:1.7;stroke-linecap:butt"/></g>
<g><rect x="164" y="148" width="26" height="26" fill="#101014"/><rect x="165.00" y="149.00" width="11.00" height="11.00" fill="#e6e6f7"/><rect x="165.80" y="149.80" width="9.40" height="9.40" fill="#d8d8f0"/><path d="M167.31,154.50 L173.69,154.50" style="stroke:#f6f6fd;stroke-width:1.5;stroke-linecap:butt"/><rect x="178.00" y="149.00" width="11.00" height="11.00" fill="#e6e6f7"/><rect x="178.80" y="149.80" width="9.40" height="9.40" fill="#d8d8f0"/><path d="M180.31,154.50 L186.69,154.50" style="stroke:#f6f6fd;stroke-width:1.5;stroke-linecap:butt"/><rect x="165.00" y="161.00" width="11.00" height="12.00" fill="#e6e6f7"/><rect x="165.80" y="161.80" width="9.40" height="10.40" fill="#d8d8f0"/><path d="M167.31,166.50 L173.69,166.50" style="stroke:#f6f6fd;stroke-width:1.5;stroke-linecap:butt"/><rect x="178.00" y="161.00" width="11.00" height="12.00" fill="#a2a2a2"/><path d="M183.50,165.32 L183.50,171.80" style="stroke:#ececec;stroke-width:1.7;stroke-linecap:butt"/><path d="M183.50,162.56 L183.50,164.24" style="stroke:#ececec;stroke-width:1.7;stroke-linecap:butt"/></g>
<g><rect x="244" y="196" width="26" height="26" fill="#101014"/><rect x="245.00" y="197.00" width="11.00" height="11.00" fill="#a2a2a2"/><path d="M250.50,200.96 L250.50,206.90" style="stroke:#ececec;stroke-width:1.7;stroke-linecap:butt"/><path d="M250.50,198.43 L250.50,199.97" style="stroke:#ececec;stroke-width:1.7;stroke-linecap:butt"/><rect x="258.00" y="197.00" width="11.00" height="11.00" fill="#fff"/><ellipse cx="263.50" cy="202.50" rx="1.65" ry="3.30" style="fill:none;stroke:#161616;stroke-width:1.1"/><rect x="245.00" y="209.00" width="11.00" height="12.00" fill="#a2a2a2"/><path d="M250.50,213.32 L250.50,219.80" style="stroke:#ececec;stroke-width:1.7;stroke-linecap:butt"/><path d="M250.50,210.56 L250.50,212.24" style="stroke:#ececec;stroke-width:1.7;stroke-linecap:butt"/><rect x="258.00" y="209.00" width="11.00" height="12.00" fill="#fff"/><ellipse cx="263.50" cy="214.50" rx="1.65" ry="3.45" style="fill:none;stroke:#161616;stroke-width:1.1"/></g>
<g><rect x="253" y="247" width="27" height="26" fill="#101014"/><rect x="253.00" y="248.00" width="12.00" height="11.00" fill="#a2a2a2"/><path d="M258.50,251.96 L258.50,257.90" style="stroke:#ececec;stroke-width:1.7;stroke-linecap:butt"/><path d="M258.50,249.43 L258.50,250.97" style="stroke:#ececec;stroke-width:1.7;stroke-linecap:butt"/><rect x="267.00" y="248.00" width="12.00" height="11.00" fill="#a2a2a2"/><path d="M272.50,251.96 L272.50,257.90" style="stroke:#ececec;stroke-width:1.7;stroke-linecap:butt"/><path d="M272.50,249.43 L272.50,250.97" style="stroke:#ececec;stroke-width:1.7;stroke-linecap:butt"/><rect x="253.00" y="260.00" width="12.00" height="12.00" fill="#a2a2a2"/><path d="M258.50,264.32 L258.50,270.80" style="stroke:#ececec;stroke-width:1.7;stroke-linecap:butt"/><path d="M258.50,261.56 L258.50,263.24" style="stroke:#ececec;stroke-width:1.7;stroke-linecap:butt"/><rect x="267.00" y="260.00" width="12.00" height="12.00" fill="#a2a2a2"/><path d="M272.50,264.32 L272.50,270.80" style="stroke:#ececec;stroke-width:1.7;stroke-linecap:butt"/><path d="M272.50,261.56 L272.50,263.24" style="stroke:#ececec;stroke-width:1.7;stroke-linecap:butt"/><rect x="253" y="247" width="1" height="26" fill="#000" fill-opacity=".5"/></g>
<g><rect x="388" y="63" width="27" height="25" fill="#101014"/><rect x="388.00" y="64.00" width="12.00" height="11.00" fill="#1862b4"/><path d="M390.20,69.50 L396.80,69.50" style="stroke:#f4f8ff;stroke-width:1.15;stroke-linecap:butt"/><path d="M393.50,66.20 L393.50,72.80" style="stroke:#f4f8ff;stroke-width:1.15;stroke-linecap:butt"/><rect x="402.00" y="64.00" width="12.00" height="11.00" fill="#1862b4"/><path d="M404.20,69.50 L410.80,69.50" style="stroke:#f4f8ff;stroke-width:1.15;stroke-linecap:butt"/><path d="M407.50,66.20 L407.50,72.80" style="stroke:#f4f8ff;stroke-width:1.15;stroke-linecap:butt"/><rect x="388.00" y="76.00" width="12.00" height="11.00" fill="#e6e6f7"/><rect x="388.80" y="76.80" width="10.40" height="9.40" fill="#d8d8f0"/><path d="M390.02,81.50 L396.98,81.50" style="stroke:#f6f6fd;stroke-width:1.5;stroke-linecap:butt"/><rect x="402.00" y="76.00" width="12.00" height="11.00" fill="#fff"/><ellipse cx="407.50" cy="81.50" rx="1.65" ry="3.30" style="fill:none;stroke:#161616;stroke-width:1.1"/><rect x="388" y="63" width="1" height="25" fill="#000" fill-opacity=".5"/></g>
<g><rect x="383" y="102" width="27" height="25" fill="#101014"/><rect x="383.00" y="103.00" width="12.00" height="11.00" fill="#fff"/><ellipse cx="388.50" cy="108.50" rx="1.65" ry="3.30" style="fill:none;stroke:#161616;stroke-width:1.1"/><rect x="397.00" y="103.00" width="12.00" height="11.00" fill="#fff"/><ellipse cx="402.50" cy="108.50" rx="1.65" ry="3.30" style="fill:none;stroke:#161616;stroke-width:1.1"/><rect x="383.00" y="115.00" width="12.00" height="11.00" fill="#000"/><path d="M384.20,120.50 L392.80,120.50" style="stroke:#fff;stroke-width:1.2;stroke-linecap:butt"/><rect x="397.00" y="115.00" width="12.00" height="11.00" fill="#a2a2a2"/><path d="M402.50,118.96 L402.50,124.90" style="stroke:#ececec;stroke-width:1.7;stroke-linecap:butt"/><path d="M402.50,116.43 L402.50,117.97" style="stroke:#ececec;stroke-width:1.7;stroke-linecap:butt"/><rect x="383" y="102" width="1" height="25" fill="#000" fill-opacity=".5"/></g>
<g><rect x="400" y="136" width="22" height="23" fill="#101014"/><rect x="401.00" y="137.00" width="9.00" height="10.00" fill="#a2a2a2"/><path d="M405.50,140.60 L405.50,146.00" style="stroke:#ececec;stroke-width:1.7;stroke-linecap:butt"/><path d="M405.50,138.30 L405.50,139.70" style="stroke:#ececec;stroke-width:1.7;stroke-linecap:butt"/><rect x="412.00" y="137.00" width="9.00" height="10.00" fill="#a2a2a2"/><path d="M416.50,140.60 L416.50,146.00" style="stroke:#ececec;stroke-width:1.7;stroke-linecap:butt"/><path d="M416.50,138.30 L416.50,139.70" style="stroke:#ececec;stroke-width:1.7;stroke-linecap:butt"/><rect x="401.00" y="148.00" width="9.00" height="10.00" fill="#c2c2ec"/><rect x="401.70" y="148.70" width="7.60" height="8.60" fill="#a0a0dc"/><path d="M401.00,152.50 L410.00,152.50" style="stroke:#fff;stroke-width:1.2;stroke-linecap:butt"/><path d="M405.50,148.00 L405.50,158.00" style="stroke:#fff;stroke-width:1.2;stroke-linecap:butt"/><rect x="412.00" y="148.00" width="9.00" height="10.00" fill="#c2c2ec"/><rect x="412.70" y="148.70" width="7.60" height="8.60" fill="#a0a0dc"/><path d="M412.00,152.50 L421.00,152.50" style="stroke:#fff;stroke-width:1.2;stroke-linecap:butt"/><path d="M416.50,148.00 L416.50,158.00" style="stroke:#fff;stroke-width:1.2;stroke-linecap:butt"/></g>
<g><rect x="354" y="185" width="27" height="25" fill="#101014"/><rect x="354.00" y="186.00" width="12.00" height="11.00" fill="#1862b4"/><path d="M356.20,191.50 L362.80,191.50" style="stroke:#f4f8ff;stroke-width:1.15;stroke-linecap:butt"/><path d="M359.50,188.20 L359.50,194.80" style="stroke:#f4f8ff;stroke-width:1.15;stroke-linecap:butt"/><rect x="368.00" y="186.00" width="12.00" height="11.00" fill="#1862b4"/><path d="M370.20,191.50 L376.80,191.50" style="stroke:#f4f8ff;stroke-width:1.15;stroke-linecap:butt"/><path d="M373.50,188.20 L373.50,194.80" style="stroke:#f4f8ff;stroke-width:1.15;stroke-linecap:butt"/><rect x="354.00" y="198.00" width="12.00" height="11.00" fill="#fff"/><ellipse cx="359.50" cy="203.50" rx="1.65" ry="3.30" style="fill:none;stroke:#161616;stroke-width:1.1"/><rect x="368.00" y="198.00" width="12.00" height="11.00" fill="#a2a2a2"/><path d="M373.50,201.96 L373.50,207.90" style="stroke:#ececec;stroke-width:1.7;stroke-linecap:butt"/><path d="M373.50,199.43 L373.50,200.97" style="stroke:#ececec;stroke-width:1.7;stroke-linecap:butt"/><rect x="354" y="185" width="1" height="25" fill="#000" fill-opacity=".5"/></g>
<g><rect x="428" y="180" width="26" height="26" fill="#101014"/><rect x="429.00" y="181.00" width="11.00" height="11.00" fill="#1862b4"/><path d="M431.42,186.50 L437.58,186.50" style="stroke:#f4f8ff;stroke-width:1.15;stroke-linecap:butt"/><path d="M434.50,183.42 L434.50,189.58" style="stroke:#f4f8ff;stroke-width:1.15;stroke-linecap:butt"/><rect x="442.00" y="181.00" width="11.00" height="11.00" fill="#1862b4"/><path d="M444.42,186.50 L450.58,186.50" style="stroke:#f4f8ff;stroke-width:1.15;stroke-linecap:butt"/><path d="M447.50,183.42 L447.50,189.58" style="stroke:#f4f8ff;stroke-width:1.15;stroke-linecap:butt"/><rect x="429.00" y="193.00" width="11.00" height="12.00" fill="#a2a2a2"/><path d="M434.50,197.32 L434.50,203.80" style="stroke:#ececec;stroke-width:1.7;stroke-linecap:butt"/><path d="M434.50,194.56 L434.50,196.24" style="stroke:#ececec;stroke-width:1.7;stroke-linecap:butt"/><rect x="442.00" y="193.00" width="11.00" height="12.00" fill="#a2a2a2"/><path d="M447.50,197.32 L447.50,203.80" style="stroke:#ececec;stroke-width:1.7;stroke-linecap:butt"/><path d="M447.50,194.56 L447.50,196.24" style="stroke:#ececec;stroke-width:1.7;stroke-linecap:butt"/></g>
<g><rect x="409" y="232" width="26" height="27" fill="#101014"/><rect x="410.00" y="233.00" width="11.00" height="12.00" fill="#a2a2a2"/><path d="M415.50,237.32 L415.50,243.80" style="stroke:#ececec;stroke-width:1.7;stroke-linecap:butt"/><path d="M415.50,234.56 L415.50,236.24" style="stroke:#ececec;stroke-width:1.7;stroke-linecap:butt"/><rect x="423.00" y="233.00" width="11.00" height="12.00" fill="#a2a2a2"/><path d="M428.50,237.32 L428.50,243.80" style="stroke:#ececec;stroke-width:1.7;stroke-linecap:butt"/><path d="M428.50,234.56 L428.50,236.24" style="stroke:#ececec;stroke-width:1.7;stroke-linecap:butt"/><rect x="410.00" y="246.00" width="11.00" height="12.00" fill="#e6e6f7"/><rect x="410.80" y="246.80" width="9.40" height="10.40" fill="#d8d8f0"/><path d="M412.31,251.50 L418.69,251.50" style="stroke:#f6f6fd;stroke-width:1.5;stroke-linecap:butt"/><rect x="423.00" y="246.00" width="11.00" height="12.00" fill="#e6e6f7"/><rect x="423.80" y="246.80" width="9.40" height="10.40" fill="#d8d8f0"/><path d="M425.31,251.50 L431.69,251.50" style="stroke:#f6f6fd;stroke-width:1.5;stroke-linecap:butt"/></g>
<g><rect x="550" y="55" width="26" height="25" fill="#101014"/><rect x="551.00" y="56.00" width="11.00" height="11.00" fill="#c2c2ec"/><rect x="551.70" y="56.70" width="9.60" height="9.60" fill="#a0a0dc"/><path d="M551.00,61.50 L562.00,61.50" style="stroke:#fff;stroke-width:1.2;stroke-linecap:butt"/><path d="M556.50,56.00 L556.50,67.00" style="stroke:#fff;stroke-width:1.2;stroke-linecap:butt"/><rect x="564.00" y="56.00" width="11.00" height="11.00" fill="#c2c2ec"/><rect x="564.70" y="56.70" width="9.60" height="9.60" fill="#a0a0dc"/><path d="M564.00,61.50 L575.00,61.50" style="stroke:#fff;stroke-width:1.2;stroke-linecap:butt"/><path d="M569.50,56.00 L569.50,67.00" style="stroke:#fff;stroke-width:1.2;stroke-linecap:butt"/><rect x="551.00" y="68.00" width="11.00" height="11.00" fill="#1862b4"/><path d="M553.42,73.50 L559.58,73.50" style="stroke:#f4f8ff;stroke-width:1.15;stroke-linecap:butt"/><path d="M556.50,70.42 L556.50,76.58" style="stroke:#f4f8ff;stroke-width:1.15;stroke-linecap:butt"/><rect x="564.00" y="68.00" width="11.00" height="11.00" fill="#1862b4"/><path d="M566.42,73.50 L572.58,73.50" style="stroke:#f4f8ff;stroke-width:1.15;stroke-linecap:butt"/><path d="M569.50,70.42 L569.50,76.58" style="stroke:#f4f8ff;stroke-width:1.15;stroke-linecap:butt"/></g>
<g><rect x="455" y="101" width="27" height="26" fill="#101014"/><rect x="455.00" y="102.00" width="12.00" height="11.00" fill="#1862b4"/><path d="M457.20,107.50 L463.80,107.50" style="stroke:#f4f8ff;stroke-width:1.15;stroke-linecap:butt"/><path d="M460.50,104.20 L460.50,110.80" style="stroke:#f4f8ff;stroke-width:1.15;stroke-linecap:butt"/><rect x="469.00" y="102.00" width="12.00" height="11.00" fill="#1862b4"/><path d="M471.20,107.50 L477.80,107.50" style="stroke:#f4f8ff;stroke-width:1.15;stroke-linecap:butt"/><path d="M474.50,104.20 L474.50,110.80" style="stroke:#f4f8ff;stroke-width:1.15;stroke-linecap:butt"/><rect x="455.00" y="114.00" width="12.00" height="12.00" fill="#a2a2a2"/><path d="M460.50,118.32 L460.50,124.80" style="stroke:#ececec;stroke-width:1.7;stroke-linecap:butt"/><path d="M460.50,115.56 L460.50,117.24" style="stroke:#ececec;stroke-width:1.7;stroke-linecap:butt"/><rect x="469.00" y="114.00" width="12.00" height="12.00" fill="#a2a2a2"/><path d="M474.50,118.32 L474.50,124.80" style="stroke:#ececec;stroke-width:1.7;stroke-linecap:butt"/><path d="M474.50,115.56 L474.50,117.24" style="stroke:#ececec;stroke-width:1.7;stroke-linecap:butt"/><rect x="455" y="101" width="1" height="26" fill="#000" fill-opacity=".5"/></g>
<g><rect x="493" y="107" width="27" height="25" fill="#101014"/><rect x="493.00" y="108.00" width="12.00" height="11.00" fill="#1862b4"/><path d="M495.20,113.50 L501.80,113.50" style="stroke:#f4f8ff;stroke-width:1.15;stroke-linecap:butt"/><path d="M498.50,110.20 L498.50,116.80" style="stroke:#f4f8ff;stroke-width:1.15;stroke-linecap:butt"/><rect x="507.00" y="108.00" width="12.00" height="11.00" fill="#1862b4"/><path d="M509.20,113.50 L515.80,113.50" style="stroke:#f4f8ff;stroke-width:1.15;stroke-linecap:butt"/><path d="M512.50,110.20 L512.50,116.80" style="stroke:#f4f8ff;stroke-width:1.15;stroke-linecap:butt"/><rect x="493.00" y="120.00" width="12.00" height="11.00" fill="#1862b4"/><path d="M495.20,125.50 L501.80,125.50" style="stroke:#f4f8ff;stroke-width:1.15;stroke-linecap:butt"/><path d="M498.50,122.20 L498.50,128.80" style="stroke:#f4f8ff;stroke-width:1.15;stroke-linecap:butt"/><rect x="507.00" y="120.00" width="12.00" height="11.00" fill="#1862b4"/><path d="M509.20,125.50 L515.80,125.50" style="stroke:#f4f8ff;stroke-width:1.15;stroke-linecap:butt"/><path d="M512.50,122.20 L512.50,128.80" style="stroke:#f4f8ff;stroke-width:1.15;stroke-linecap:butt"/><rect x="493" y="107" width="1" height="25" fill="#000" fill-opacity=".5"/></g>
<g><rect x="544" y="118" width="28" height="25" fill="#101014"/><rect x="545.00" y="119.00" width="12.00" height="11.00" fill="#a2a2a2"/><path d="M550.50,122.96 L550.50,128.90" style="stroke:#ececec;stroke-width:1.7;stroke-linecap:butt"/><path d="M550.50,120.43 L550.50,121.97" style="stroke:#ececec;stroke-width:1.7;stroke-linecap:butt"/><rect x="559.00" y="119.00" width="12.00" height="11.00" fill="#1862b4"/><path d="M561.20,124.50 L567.80,124.50" style="stroke:#f4f8ff;stroke-width:1.15;stroke-linecap:butt"/><path d="M564.50,121.20 L564.50,127.80" style="stroke:#f4f8ff;stroke-width:1.15;stroke-linecap:butt"/><rect x="545.00" y="131.00" width="12.00" height="11.00" fill="#1862b4"/><path d="M547.20,136.50 L553.80,136.50" style="stroke:#f4f8ff;stroke-width:1.15;stroke-linecap:butt"/><path d="M550.50,133.20 L550.50,139.80" style="stroke:#f4f8ff;stroke-width:1.15;stroke-linecap:butt"/><rect x="559.00" y="131.00" width="12.00" height="11.00" fill="#1862b4"/><path d="M561.20,136.50 L567.80,136.50" style="stroke:#f4f8ff;stroke-width:1.15;stroke-linecap:butt"/><path d="M564.50,133.20 L564.50,139.80" style="stroke:#f4f8ff;stroke-width:1.15;stroke-linecap:butt"/></g>
<g><rect x="496" y="156" width="27" height="25" fill="#101014"/><rect x="496.00" y="157.00" width="12.00" height="11.00" fill="#a2a2a2"/><path d="M501.50,160.96 L501.50,166.90" style="stroke:#ececec;stroke-width:1.7;stroke-linecap:butt"/><path d="M501.50,158.43 L501.50,159.97" style="stroke:#ececec;stroke-width:1.7;stroke-linecap:butt"/><rect x="510.00" y="157.00" width="12.00" height="11.00" fill="#a2a2a2"/><path d="M515.50,160.96 L515.50,166.90" style="stroke:#ececec;stroke-width:1.7;stroke-linecap:butt"/><path d="M515.50,158.43 L515.50,159.97" style="stroke:#ececec;stroke-width:1.7;stroke-linecap:butt"/><rect x="496.00" y="169.00" width="12.00" height="11.00" fill="#1862b4"/><path d="M498.20,174.50 L504.80,174.50" style="stroke:#f4f8ff;stroke-width:1.15;stroke-linecap:butt"/><path d="M501.50,171.20 L501.50,177.80" style="stroke:#f4f8ff;stroke-width:1.15;stroke-linecap:butt"/><rect x="510.00" y="169.00" width="12.00" height="11.00" fill="#1862b4"/><path d="M512.20,174.50 L518.80,174.50" style="stroke:#f4f8ff;stroke-width:1.15;stroke-linecap:butt"/><path d="M515.50,171.20 L515.50,177.80" style="stroke:#f4f8ff;stroke-width:1.15;stroke-linecap:butt"/><rect x="496" y="156" width="1" height="25" fill="#000" fill-opacity=".5"/></g>
<g><rect x="561" y="182" width="26" height="26" fill="#101014"/><rect x="562.00" y="183.00" width="11.00" height="11.00" fill="#fff"/><ellipse cx="567.50" cy="188.50" rx="1.65" ry="3.30" style="fill:none;stroke:#161616;stroke-width:1.1"/><rect x="575.00" y="183.00" width="11.00" height="11.00" fill="#fff"/><ellipse cx="580.50" cy="188.50" rx="1.65" ry="3.30" style="fill:none;stroke:#161616;stroke-width:1.1"/><rect x="562.00" y="195.00" width="11.00" height="12.00" fill="#fff"/><ellipse cx="567.50" cy="200.50" rx="1.65" ry="3.45" style="fill:none;stroke:#161616;stroke-width:1.1"/><rect x="575.00" y="195.00" width="11.00" height="12.00" fill="#a2a2a2"/><path d="M580.50,199.32 L580.50,205.80" style="stroke:#ececec;stroke-width:1.7;stroke-linecap:butt"/><path d="M580.50,196.56 L580.50,198.24" style="stroke:#ececec;stroke-width:1.7;stroke-linecap:butt"/></g>
<g><rect x="603" y="229" width="25" height="26" fill="#101014"/><rect x="603.00" y="230.00" width="11.00" height="11.00" fill="#a2a2a2"/><path d="M608.50,233.96 L608.50,239.90" style="stroke:#ececec;stroke-width:1.7;stroke-linecap:butt"/><path d="M608.50,231.43 L608.50,232.97" style="stroke:#ececec;stroke-width:1.7;stroke-linecap:butt"/><rect x="616.00" y="230.00" width="11.00" height="11.00" fill="#a2a2a2"/><path d="M621.50,233.96 L621.50,239.90" style="stroke:#ececec;stroke-width:1.7;stroke-linecap:butt"/><path d="M621.50,231.43 L621.50,232.97" style="stroke:#ececec;stroke-width:1.7;stroke-linecap:butt"/><rect x="603.00" y="242.00" width="11.00" height="12.00" fill="#e6e6f7"/><rect x="603.80" y="242.80" width="9.40" height="10.40" fill="#d8d8f0"/><path d="M605.31,247.50 L611.69,247.50" style="stroke:#f6f6fd;stroke-width:1.5;stroke-linecap:butt"/><rect x="616.00" y="242.00" width="11.00" height="12.00" fill="#e6e6f7"/><rect x="616.80" y="242.80" width="9.40" height="10.40" fill="#d8d8f0"/><path d="M618.31,247.50 L624.69,247.50" style="stroke:#f6f6fd;stroke-width:1.5;stroke-linecap:butt"/><rect x="603" y="229" width="1" height="26" fill="#000" fill-opacity=".5"/></g>
<g><rect x="604" y="266" width="26" height="25" fill="#101014"/><rect x="605.00" y="267.00" width="11.00" height="11.00" fill="#1862b4"/><path d="M607.42,272.50 L613.58,272.50" style="stroke:#f4f8ff;stroke-width:1.15;stroke-linecap:butt"/><path d="M610.50,269.42 L610.50,275.58" style="stroke:#f4f8ff;stroke-width:1.15;stroke-linecap:butt"/><rect x="618.00" y="267.00" width="11.00" height="11.00" fill="#a2a2a2"/><path d="M623.50,270.96 L623.50,276.90" style="stroke:#ececec;stroke-width:1.7;stroke-linecap:butt"/><path d="M623.50,268.43 L623.50,269.97" style="stroke:#ececec;stroke-width:1.7;stroke-linecap:butt"/><rect x="605.00" y="279.00" width="11.00" height="11.00" fill="#e6e6f7"/><rect x="605.80" y="279.80" width="9.40" height="9.40" fill="#d8d8f0"/><path d="M607.31,284.50 L613.69,284.50" style="stroke:#f6f6fd;stroke-width:1.5;stroke-linecap:butt"/><rect x="618.00" y="279.00" width="11.00" height="11.00" fill="#e6e6f7"/><rect x="618.80" y="279.80" width="9.40" height="9.40" fill="#d8d8f0"/><path d="M620.31,284.50 L626.69,284.50" style="stroke:#f6f6fd;stroke-width:1.5;stroke-linecap:butt"/></g>
<g><rect x="421" y="359" width="27" height="27" fill="#101014"/><rect x="421.00" y="360.00" width="12.00" height="12.00" fill="#1862b4"/><path d="M423.20,365.50 L429.80,365.50" style="stroke:#f4f8ff;stroke-width:1.15;stroke-linecap:butt"/><path d="M426.50,362.20 L426.50,368.80" style="stroke:#f4f8ff;stroke-width:1.15;stroke-linecap:butt"/><rect x="435.00" y="360.00" width="12.00" height="12.00" fill="#1862b4"/><path d="M437.20,365.50 L443.80,365.50" style="stroke:#f4f8ff;stroke-width:1.15;stroke-linecap:butt"/><path d="M440.50,362.20 L440.50,368.80" style="stroke:#f4f8ff;stroke-width:1.15;stroke-linecap:butt"/><rect x="421.00" y="373.00" width="12.00" height="12.00" fill="#c2c2ec"/><rect x="421.70" y="373.70" width="10.60" height="10.60" fill="#a0a0dc"/><path d="M421.00,378.50 L433.00,378.50" style="stroke:#fff;stroke-width:1.2;stroke-linecap:butt"/><path d="M426.50,373.00 L426.50,385.00" style="stroke:#fff;stroke-width:1.2;stroke-linecap:butt"/><rect x="435.00" y="373.00" width="12.00" height="12.00" fill="#1862b4"/><path d="M437.20,378.50 L443.80,378.50" style="stroke:#f4f8ff;stroke-width:1.15;stroke-linecap:butt"/><path d="M440.50,375.20 L440.50,381.80" style="stroke:#f4f8ff;stroke-width:1.15;stroke-linecap:butt"/><rect x="421" y="359" width="1" height="27" fill="#000" fill-opacity=".5"/></g>
</g>
<g id="frame">
<path d="M40.5,396.5 L40.5,4 M40.5,396.5 L694.5,396.5" style="stroke:#111;stroke-width:1.2"/>
<path d="M40.5,4 L694.5,4 L694.5,396.5" style="stroke:#555;stroke-width:1.2"/>
<path d="M37.3,4 H40.5 M37.3,69.4 H40.5 M37.3,134.8 H40.5 M37.3,200.25 H40.5 M37.3,265.7 H40.5 M37.3,331.1 H40.5 M37.3,396.5 H40.5 M130.6,396.5 V399.3 M239.7,396.5 V399.3 M348.8,396.5 V399.3 M457.9,396.5 V399.3 M567,396.5 V399.3 M676.1,396.5 V399.3" style="stroke:#111;stroke-width:1"/>
</g>
</svg>
<div id="labels">
<span class="rl" style="left:70.28px;top:50.31px;font-size:12.6px;line-height:15.12px;transform:scaleX(0.9384);">ALA</span>
<span class="rl" style="left:234.32px;top:60.31px;font-size:12.6px;line-height:15.12px;transform:scaleX(0.9252);">GRL</span>
<span class="rl" style="left:126.06px;top:79.91px;font-size:12.6px;line-height:15.12px;transform:scaleX(0.8902);">WNA</span>
<span class="rl" style="left:165.51px;top:93.51px;font-size:12.6px;line-height:15.12px;transform:scaleX(0.9367);">CNA</span>
<span class="rl" style="left:205.11px;top:104.71px;font-size:12.6px;line-height:15.12px;transform:scaleX(0.9579);">ENA</span>
<span class="rl" style="left:136.52px;top:153.31px;font-size:12.6px;line-height:15.12px;transform:scaleX(0.9266);">CAM</span>
<span class="rl" style="left:214.88px;top:203.51px;font-size:12.6px;line-height:15.12px;transform:scaleX(0.9434);">AMZ</span>
<span class="rl" style="left:222.55px;top:253.81px;font-size:12.6px;line-height:15.12px;transform:scaleX(0.9707);">SSA</span>
<span class="rl" style="left:358.24px;top:69.51px;font-size:12.6px;line-height:15.12px;transform:scaleX(1.0241);">NEU</span>
<span class="rl" style="left:349.02px;top:107.31px;font-size:12.6px;line-height:15.12px;transform:scaleX(0.9518);">MED</span>
<span class="rl" style="left:365.53px;top:142.31px;font-size:12.6px;line-height:15.12px;transform:scaleX(1.0034);">SAH</span>
<span class="rl" style="left:333.06px;top:170.81px;font-size:12.6px;line-height:15.12px;transform:scaleX(0.8897);">WAF</span>
<span class="rl" style="left:399.56px;top:181.61px;font-size:12.6px;line-height:15.12px;transform:scaleX(0.9142);">EAF</span>
<span class="rl" style="left:382.06px;top:236.51px;font-size:12.6px;line-height:15.12px;transform:scaleX(0.9515);">SAF</span>
<span class="rl" style="left:517.86px;top:59.81px;font-size:12.6px;line-height:15.12px;transform:scaleX(1.0080);">NAS</span>
<span class="rl" style="left:427.90px;top:106.31px;font-size:12.6px;line-height:15.12px;transform:scaleX(0.9470);">CAS</span>
<span class="rl" style="left:498.65px;top:93.51px;font-size:12.6px;line-height:15.12px;transform:scaleX(0.9104);">TIB</span>
<span class="rl" style="left:545.14px;top:99.51px;font-size:12.6px;line-height:15.12px;transform:scaleX(0.9275);">EAS</span>
<span class="rl" style="left:480.56px;top:139.71px;font-size:12.6px;line-height:15.12px;transform:scaleX(0.9552);">SAS</span>
<span class="rl" style="left:544.44px;top:167.31px;font-size:12.6px;line-height:15.12px;transform:scaleX(0.9829);">SEA</span>
<span class="rl" style="left:573.28px;top:238.61px;font-size:12.6px;line-height:15.12px;transform:scaleX(0.9916);">NAU</span>
<span class="rl" style="left:573.57px;top:266.11px;font-size:12.6px;line-height:15.12px;transform:scaleX(0.9434);">SAU</span>
<span class="rl" style="left:391.38px;top:366.21px;font-size:12.6px;line-height:15.12px;transform:scaleX(0.9644);">ANT</span>
</div>
<div id="axis">
<span class="ax" style="left:17.25px;top:-2.51px;font-size:11.3px;line-height:13.56px;transform:scaleX(0.8606);">90N</span>
<span class="ax" style="left:17.21px;top:64.09px;font-size:11.3px;line-height:13.56px;transform:scaleX(0.8626);">60N</span>
<span class="ax" style="left:17.33px;top:129.49px;font-size:11.3px;line-height:13.56px;transform:scaleX(0.8566);">30N</span>
<span class="ax" style="left:17.33px;top:260.39px;font-size:11.3px;line-height:13.56px;transform:scaleX(0.8662);">30S</span>
<span class="ax" style="left:17.21px;top:325.79px;font-size:11.3px;line-height:13.56px;transform:scaleX(0.8723);">60S</span>
<span class="ax" style="left:17.22px;top:390.89px;font-size:11.3px;line-height:13.56px;transform:scaleX(0.9175);">90S</span>
<span class="ax" style="left:120.11px;top:399.09px;font-size:11.3px;line-height:13.56px;transform:scaleX(0.8070);">120W</span>
<span class="ax" style="left:231.06px;top:399.09px;font-size:11.3px;line-height:13.56px;transform:scaleX(0.7732);">60W</span>
<span class="ax" style="left:346.11px;top:399.09px;font-size:11.3px;line-height:13.56px;transform:scaleX(0.8868);">0</span>
<span class="ax" style="left:449.86px;top:399.09px;font-size:11.3px;line-height:13.56px;transform:scaleX(0.7869);">60E</span>
<span class="ax" style="left:555.90px;top:399.09px;font-size:11.3px;line-height:13.56px;transform:scaleX(0.8143);">120E</span>
<span class="ax" style="left:667.23px;top:399.09px;font-size:11.3px;line-height:13.56px;transform:scaleX(0.8941);">180E</span><span class="lt" style="left:1.66px;top:194.60px;font-size:9.3px;line-height:11.16px;transform:scaleX(0.9754);">Ecuador</span>
</div>
<div id="legtxt">
<span class="lt" style="left:72.72px;top:312.23px;font-size:10.4px;line-height:12.48px;transform:scaleX(0.8530);">Значительное увеличение</span>
<span class="lt" style="left:72.32px;top:325.03px;font-size:10.4px;line-height:12.48px;transform:scaleX(0.7932);">Незначительное увеличение</span>
<span class="lt" style="left:72.26px;top:339.33px;font-size:10.4px;line-height:12.48px;transform:scaleX(0.8619);">Никакого изменения</span>
<span class="lt" style="left:72.40px;top:351.93px;font-size:10.4px;line-height:12.48px;transform:scaleX(0.7083);">Незначительное уменьшение</span>
<span class="lt" style="left:72.73px;top:365.03px;font-size:10.4px;line-height:12.48px;transform:scaleX(0.8035);">Значительное уменьшение</span>
<span class="lt" style="left:72.36px;top:378.53px;font-size:10.4px;line-height:12.48px;transform:scaleX(0.7550);">Несоответствующий знак</span>
<span class="lt" style="left:62.61px;top:295.35px;font-size:10.2px;line-height:12.24px;transform:scaleX(0.8713);font-weight:bold;">Изменение осадков</span>
<span class="lt" style="left:185.38px;top:327.30px;font-size:9.3px;line-height:11.16px;transform:scaleX(0.9642);">A2</span><span class="lt" style="left:202.17px;top:327.30px;font-size:9.3px;line-height:11.16px;transform:scaleX(0.9560);">B2</span><span class="lt" style="left:161.86px;top:343.88px;font-size:9px;line-height:10.8px;transform:scaleX(1.0058);-webkit-text-stroke:.35px #000;">DEF</span><span class="lt" style="left:165.39px;top:359.88px;font-size:9px;line-height:10.8px;transform:scaleX(0.8081);-webkit-text-stroke:.35px #000;">JJA</span>
</div>
</body></html>
